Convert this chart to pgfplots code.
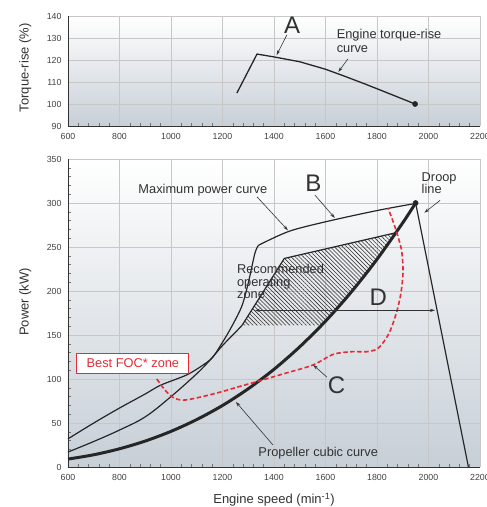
\documentclass[border=0pt]{standalone}
\usepackage{fontspec}
\setmainfont{Liberation Sans}
\usepackage{pgfplots}
\pgfplotsset{compat=1.18}
\usetikzlibrary{arrows.meta,patterns.meta}

\definecolor{focred}{RGB}{228,44,56}
\definecolor{txt}{RGB}{50,50,50}
\definecolor{bgbot}{RGB}{199,207,215}
\newcommand{\lbl}{\fontsize{12.8}{14}\selectfont}
\newcommand{\biglbl}{\fontsize{24}{24}\selectfont}

\tikzset{
  ann/.style={black!80, line width=0.6pt, -{Stealth[length=5pt,width=3.2pt]}},
  curve/.style={black!85, line width=1.2pt},
}

\pgfplotsset{
  engine/.style={
    scale only axis, width=412pt, clip=false,
    axis x line*=bottom, axis y line*=left,
    axis line style={black!80, line width=0.8pt},
    axis background/.style={top color=white, bottom color=bgbot},
    xmin=600, xmax=2200, xtick={600,800,...,2200},
    grid=major, major grid style={black!22, line width=0.8pt},
    major tick length=0pt, minor tick length=3pt, tick align=inside,
    minor tick style={black!55, line width=0.5pt},
    minor x tick num=4,
    /pgf/number format/assume math mode=true,
    /pgf/number format/1000 sep={},
    tick label style={font=\fontsize{8.8}{10}\selectfont, text=black!75},
    xticklabel style={yshift=-4pt},
    yticklabel style={xshift=-3pt},
    label style={font=\fontsize{13}{15}\selectfont, text=txt},
  },
}

\begin{document}
\begin{tikzpicture}

% torque-rise panel
\begin{axis}[engine, at={(68pt,381pt)}, anchor=south west, height=110pt,
  ymin=90, ymax=140, ytick={90,100,...,140},
  ylabel={Torque-rise (\%)},
  ylabel style={at={(axis description cs:-0.104,0.53)}, anchor=center}]
\addplot[curve, line width=1.3pt] coordinates {
  (1256,105) (1334,122.7) (1400,121.4) (1500,119.2) (1600,115.8) (1668,112.9)
  (1760,108.8) (1850,104.6) (1948,100)};
\addplot[only marks, mark=*, mark size=2.6pt, black!85] coordinates {(1948,100)};
\node[font=\biglbl, text=txt, anchor=base] at (axis cs:1470,132.1) {A};
\draw[ann] (axis cs:1450,131.4) -- (axis cs:1410,122.2);
\node[font=\lbl, text=txt, anchor=base west, inner sep=0pt] at (axis cs:1643,129.6) {Engine torque-rise};
\node[font=\lbl, text=txt, anchor=base west, inner sep=0pt] at (axis cs:1643,123.2) {curve};
\draw[ann] (axis cs:1687,120.5) -- (axis cs:1650,114.6);
\end{axis}

% power panel
\begin{axis}[engine, at={(68pt,40pt)}, anchor=south west, height=308pt,
  ymin=0, ymax=350, ytick={0,50,...,350}, minor y tick num=4,
  ylabel={Power (kW)},
  ylabel style={at={(axis description cs:-0.104,0.536)}, anchor=center},
  xlabel={Engine speed (min\textsuperscript{-1})},
  xlabel style={at={(axis description cs:0.5,-0.107)}, anchor=center}]

% recommended operating zone (hatched)
\addplot[draw=none, pattern={Lines[angle=-45,distance=2.9pt,line width=0.6pt]},
  pattern color=black!80] coordinates {
  (1276,161) (1440,237) (1870,266) (1800,236) (1700,198.8) (1600,165.7) (1585,161)} -- cycle;
\addplot[curve] coordinates {(1276,161) (1440,237) (1870,266)};

% lower lead-in curve
\addplot[curve, smooth, tension=0.6] coordinates {
  (600,17) (700,29) (800,42) (900,57) (1000,80) (1100,106) (1150,121)
  (1200,138) (1250,153) (1276,161)};

% maximum power curve
\addplot[curve, smooth, tension=0.5] coordinates {
  (600,32) (700,50) (800,67) (900,83) (960,93) (1060,104.5) (1120,115)
  (1160,124) (1190,137) (1229,156) (1274,182) (1300,209) (1326,243) (1340,252)};
\addplot[curve, smooth, tension=0.5] coordinates {
  (1340,252) (1460,268) (1620,280) (1810,292) (1950,299.5)};

% droop line
\addplot[curve] coordinates {(1950,300) (2155,0)};

% propeller cubic curve
\addplot[black!85, line width=3pt, smooth] coordinates {
  (600,9) (700,13.9) (800,20.7) (900,29.5) (1000,40.5) (1100,53.9) (1200,69.9)
  (1300,88.9) (1400,111) (1500,136.6) (1600,165.7) (1700,198.8) (1800,236)
  (1900,277.5) (1950,300)};
\addplot[only marks, mark=*, mark size=2.6pt, black!85] coordinates {(1950,300)};

% best FOC zone
\addplot[focred, line width=1.6pt, dash pattern=on 4.5pt off 2.5pt, smooth, tension=0.5] coordinates {
  (945,100) (975,88) (1008,79) (1046,76) (1100,78.5) (1190,85) (1260,91)
  (1333,97) (1450,107) (1552,116) (1630,128) (1700,131) (1760,131) (1800,134)
  (1823,141) (1845,151) (1862,163) (1880,180) (1892,196) (1899,212) (1901,226)
  (1895,247) (1877,266) (1860,281) (1843,294)};

% D arrow
\draw[black!80, line width=0.6pt, {Stealth[length=5pt,width=3.2pt]}-{Stealth[length=5pt,width=3.2pt]}]
  (axis cs:1326,178) -- (axis cs:2025,178);

% annotations
\node[font=\lbl, text=txt, anchor=base west, inner sep=0pt] at (axis cs:873,311) {Maximum power curve};
\draw[ann] (axis cs:1334,307) -- (axis cs:1454,269);
\node[font=\biglbl, text=txt, anchor=base] at (axis cs:1553,312.8) {B};
\draw[ann] (axis cs:1559,309) -- (axis cs:1636,283);
\node[font=\lbl, text=txt, anchor=base west, inner sep=0pt] at (axis cs:1973,324) {Droop};
\node[font=\lbl, text=txt, anchor=base west, inner sep=0pt] at (axis cs:1973,311) {line};
\draw[ann] (axis cs:2045,303) -- (axis cs:1984,289);
\node[font=\lbl, text=txt, anchor=base west, inner sep=0pt] at (axis cs:1256,219.5) {Recommended};
\node[font=\lbl, text=txt, anchor=base west, inner sep=0pt] at (axis cs:1256,205.5) {operating};
\node[font=\lbl, text=txt, anchor=base west, inner sep=0pt] at (axis cs:1256,191.5) {zone};
\node[font=\biglbl, text=txt, anchor=base] at (axis cs:1805,184) {D};
\node[font=\biglbl, text=txt, anchor=base] at (axis cs:1643,83.7) {C};
\draw[ann] (axis cs:1606,102) -- (axis cs:1552,116);
\node[font=\lbl, text=txt, anchor=base west, inner sep=0pt] at (axis cs:1339,11.7) {Propeller cubic curve};
\draw[ann] (axis cs:1396,25) -- (axis cs:1252,74);
\node[font=\lbl, text=focred, draw=focred, fill=white, line width=1pt,
  minimum width=112pt, minimum height=20pt, inner sep=0pt] at (axis cs:852,118) {Best FOC* zone};
\end{axis}

\pgfresetboundingbox
\path[use as bounding box] (0pt,0pt) rectangle (487pt,507pt);
\end{tikzpicture}
\end{document}
